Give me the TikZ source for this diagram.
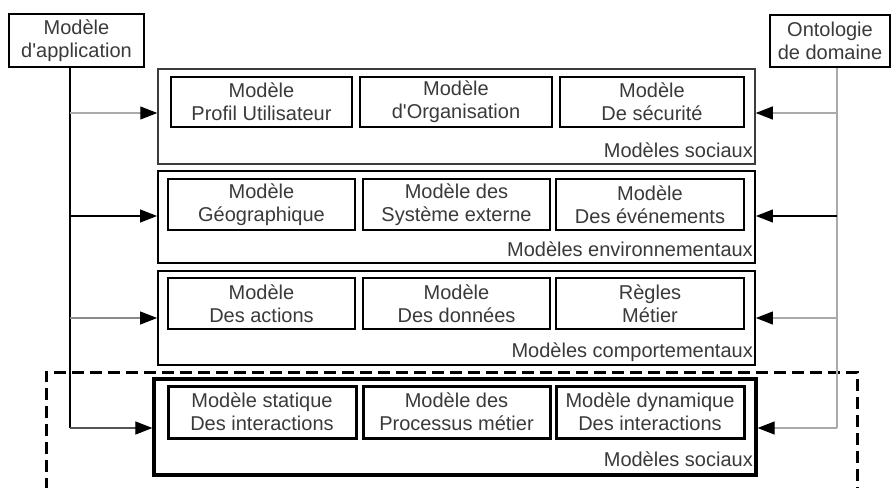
\documentclass[tikz,border=0pt]{standalone}
\usepackage{fontspec}
\setmainfont{Liberation Sans}
\usetikzlibrary{arrows.meta}
\definecolor{txt}{HTML}{3A3A3A}
\definecolor{lgray}{HTML}{AAAAAA}
\definecolor{mgray}{HTML}{8A8A8A}
\definecolor{dgray}{HTML}{555555}
\newcommand{\apos}{\textquotesingle}
\begin{document}
\begin{tikzpicture}[x=1pt,y=-1pt,
  every node/.style={font=\fontsize{20}{23}\selectfont, text=txt},
  ibox/.style={draw=black, align=center, inner sep=0pt},
  grp/.style={draw=black, inner sep=0pt},
  glabel/.style={anchor=base east, inner sep=0pt},
  conn/.style={line width=1.1pt},
  arr/.style={conn, -{Triangle[length=17pt,width=13pt,color=black]}}]
\useasboundingbox (0,0) rectangle (891,487);
\fill[white] (0,0) rectangle (891,487);

% top boxes
\node[ibox, line width=2pt, minimum width=135pt, minimum height=53pt] (app) at (76.5,40.5) {Modèle\\d\apos application};
\node[ibox, line width=1.6pt, minimum width=120pt, minimum height=52pt] (onto) at (830,41) {Ontologie\\de domaine};

% groups
\node[grp, draw=dgray!70!black, line width=1.5pt, minimum width=597pt, minimum height=95pt] (g1) at (456.5,116.5) {};
\node[grp, line width=1.9pt, minimum width=597pt, minimum height=92pt] (g2) at (456.5,217) {};
\node[grp, line width=1.8pt, minimum width=597pt, minimum height=94pt] (g3) at (456.5,318) {};
\node[grp, line width=3.2pt, minimum width=602pt, minimum height=96pt] (g4) at (455,427) {};

\node[glabel] (l1) at (753,157) {Modèles sociaux};
\node[glabel] (l2) at (753,256) {Modèles environnementaux};
\node[glabel] (l3) at (753,357) {Modèles comportementaux};
\node[glabel] (l4) at (753,466) {Modèles sociaux};

% row 1
\node[ibox, line width=2.3pt, minimum width=181pt, minimum height=50pt] (b11) at (261.5,102) {Modèle\\Profil Utilisateur};
\node[ibox, line width=2.3pt, minimum width=192pt, minimum height=50pt] (b12) at (456,102) {Modèle\\d\apos Organisation};
\node[ibox, line width=2.3pt, minimum width=184pt, minimum height=50pt] (b13) at (652,102) {Modèle\\De sécurité};
% row 2
\node[ibox, line width=2pt, minimum width=187pt, minimum height=51pt] (b21) at (261.5,204.5) {Modèle\\Géographique};
\node[ibox, line width=2pt, minimum width=187pt, minimum height=51pt] (b22) at (456.5,204.5) {Modèle des\\Système externe};
\node[ibox, line width=2pt, minimum width=188pt, minimum height=51pt] (b23) at (650,204.5) {Modèle\\Des événements};
% row 3
\node[ibox, line width=2pt, minimum width=187pt, minimum height=51pt] (b31) at (261.5,303.5) {Modèle\\Des actions};
\node[ibox, line width=2pt, minimum width=187pt, minimum height=51pt] (b32) at (456.5,303.5) {Modèle\\Des données};
\node[ibox, line width=2pt, minimum width=188pt, minimum height=51pt] (b33) at (650,303.5) {Règles\\Métier};
% row 4
\node[ibox, line width=3pt, minimum width=188pt, minimum height=52pt] (b41) at (262,412) {Modèle statique\\Des interactions};
\node[ibox, line width=3pt, minimum width=187pt, minimum height=52pt] (b42) at (456.5,412) {Modèle des\\Processus métier};
\node[ibox, line width=3pt, minimum width=188pt, minimum height=52pt] (b43) at (650,412) {Modèle dynamique\\Des interactions};

% dashed frame
\coordinate (d1) at (46,490);
\coordinate (d2) at (46,372);
\coordinate (d3) at (857,372);
\coordinate (d4) at (857,490);
\draw[line width=3pt, dash pattern=on 12pt off 6pt] (d1) -- (d2) -- (d3) -- (d4);

% left connectors
\coordinate (la) at (70,113);
\coordinate (lb) at (70,216);
\coordinate (lc) at (70,318);
\coordinate (ld) at (70,428);
\draw[conn, black] (app.south -| la) -- (ld);
\draw[arr, draw=lgray] (la) -- (g1.west |- la);
\draw[arr, draw=black] (lb) -- (g2.west |- lb);
\draw[arr, draw=mgray] (lc) -- (g3.west |- lc);
\draw[arr, draw=dgray] (ld) -- (g4.west |- ld);

% right connectors
\coordinate (ra) at (837,113);
\coordinate (rb) at (837,216);
\coordinate (rc) at (837,318);
\coordinate (rd) at (837,428);
\draw[conn, lgray] (onto.south -| ra) -- (rd);
\draw[arr, draw=lgray] (ra) -- (g1.east |- ra);
\draw[arr, draw=black] (rb) -- (g2.east |- rb);
\draw[arr, draw=lgray] (rc) -- (g3.east |- rc);
\draw[arr, draw=lgray] (rd) -- (g4.east |- rd);
\end{tikzpicture}
\end{document}
